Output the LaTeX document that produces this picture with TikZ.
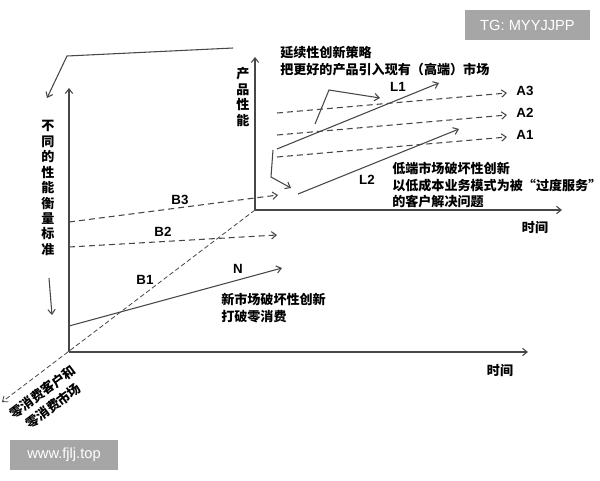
\documentclass[tikz,border=0pt]{standalone}
\usepackage{fontspec}
\setmainfont{Liberation Sans}
\newfontfamily\cjk{Noto Sans CJK SC}
\usetikzlibrary{arrows.meta}

\tikzset{
  ln/.style={draw=black!72, line width=0.8pt},
  arr/.style={ln, -{Straight Barb[length=3.5pt,width=5.5pt]}},
  darr/.style={arr, dash pattern=on 4.5pt off 3pt},
  tag/.style={inner sep=0pt, font=\bfseries\fontsize{10}{12}\selectfont},
  zh/.style={inner sep=0pt, align=left, font=\cjk\bfseries\fontsize{9.8}{12.6}\selectfont},
  vzh/.style={inner sep=0pt, align=center, font=\cjk\bfseries\fontsize{9.8}{11.6}\selectfont},
  mark box/.style={fill=black!35, text=white, inner sep=0pt, font=\fontsize{11}{13}\selectfont}
}

\begin{document}
\begin{tikzpicture}[x=0.75pt,y=0.75pt,yscale=-1,xscale=1]
\useasboundingbox (0,0) rectangle (600,480);

% axes corners
\coordinate (o1) at (69,352);
\coordinate (o1y) at (69,88);
\coordinate (o1x) at (528,352);
\coordinate (o2) at (255,210);
\coordinate (o2y) at (255,57);
\coordinate (o2x) at (562,210);
\coordinate (oz) at (2,402);

%front axes
\draw [arr] (o1) -- (o1y);
\draw [arr] (o1) -- (o1x);
%back axes
\draw [arr] (o2) -- (o2y);
\draw [arr] (o2) -- (o2x);
%depth axis
\draw [darr, dash pattern=on 3.5pt off 2pt, line width=0.6pt] (o2) -- (oz);

% Text Node
\node [zh] (t1) at (500,371) {时间};
\node [zh] (t2) at (535,228) {时间};
\node [vzh] (ylab2) at (243,97) {产\\品\\性\\能};
\node [vzh] (ylab1) at (48,188) {不\\同\\的\\性\\能\\衡\\量\\标\\准};
\node [zh, align=center, rotate=37, font=\cjk\bfseries\fontsize{9.8}{13.2}\selectfont] (zlab) at (48,399) {零消费客户和\\零消费市场};

%sustaining lines
\coordinate (a3s) at (277,113); \coordinate (a3e) at (507,93);
\coordinate (a2s) at (277,135); \coordinate (a2e) at (507,115);
\coordinate (a1s) at (277,157); \coordinate (a1e) at (507,137);
\draw [darr] (a3s) -- (a3e);
\draw [darr] (a2s) -- (a2e);
\draw [darr] (a1s) -- (a1e);
\node [tag] (A3) at (525,91) {A3};
\node [tag] (A2) at (525,113) {A2};
\node [tag] (A1) at (525,135) {A1};

\coordinate (l1s) at (277,149); \coordinate (l1e) at (439,83);
\coordinate (l2s) at (298,194); \coordinate (l2e) at (459,129);
\draw [arr] (l1s) -- (l1e);
\draw [arr] (l2s) -- (l2e);
\node [tag] (L1) at (398,87) {L1};
\node [tag] (L2) at (367,180) {L2};

%front lines
\coordinate (b3s) at (69,222); \coordinate (b3e) at (278,195);
\coordinate (b2s) at (69,247); \coordinate (b2e) at (277,235);
\coordinate (ns) at (69,326); \coordinate (ne) at (282,268);
\draw [darr] (b3s) -- (b3e);
\draw [darr] (b2s) -- (b2e);
\draw [arr] (ns) -- (ne);
\node [tag] (B3) at (180,200) {B3};
\node [tag] (B2) at (163,232) {B2};
\node [tag] (B1) at (145,280) {B1};
\node [tag] (N) at (238,269) {N};

% captions
\node [zh, anchor=west] (sust) at (280,61) {延续性创新策略\\把更好的产品引入现有（高端）市场};
\node [zh, anchor=west] (low) at (392,185) {低端市场破坏性创新\\以低成本业务模式为被“过度服务”\\的客户解决问题};
\node [zh, anchor=west] (new) at (221,308) {新市场破坏性创新\\打破零消费};

%bent pointers
\coordinate (p1) at (233,48); \coordinate (p2) at (67,56); \coordinate (p3) at (47,98);
\draw [arr] (p1) -- (p2) -- (p3);
\coordinate (q1) at (49,278); \coordinate (q2) at (52,315);
\draw [arr] (q1) -- (q2);
\coordinate (r1) at (315,124); \coordinate (r2) at (329,90); \coordinate (r3) at (380,98);
\draw [arr] (r1) -- (r2) -- (r3);
\coordinate (s1) at (273,150); \coordinate (s2) at (271,177); \coordinate (s3) at (291,188);
\draw [arr] (s1) -- (s2) -- (s3);

% marks
\node [mark box, minimum width=125*0.75pt, minimum height=30*0.75pt] (tg) at (527.5,25) {TG: MYYJJPP};
\node [mark box, minimum width=108*0.75pt, minimum height=30*0.75pt] (www) at (64,455) {www.fjlj.top};

\end{tikzpicture}
\end{document}
